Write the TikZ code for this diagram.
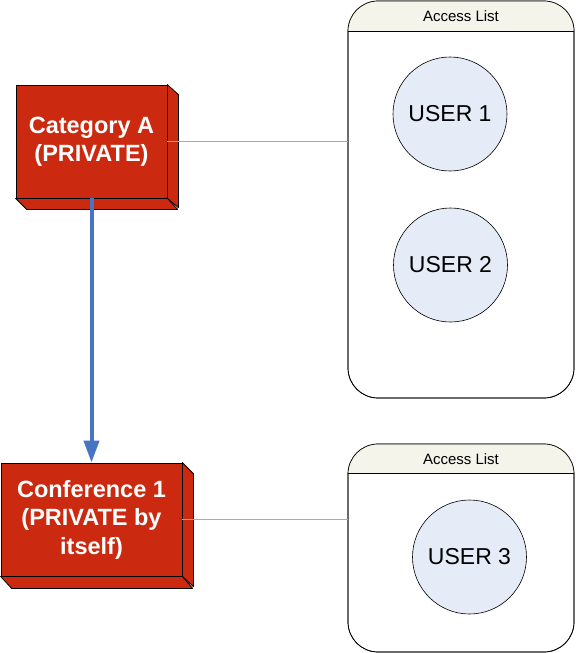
\documentclass[tikz,border=0pt]{standalone}
\usepackage{fontspec}
\newfontfamily\arial{Liberation Sans}
\usetikzlibrary{arrows.meta}
\definecolor{boxred}{HTML}{CC2A10}
\definecolor{hdr}{HTML}{F4F4EA}
\definecolor{userfill}{HTML}{E6ECF7}
\definecolor{thinblue}{HTML}{8DB0E0}
\definecolor{arrowblue}{HTML}{4775C4}
\tikzset{
  x=1pt, y=-1pt,
  frontface/.style={draw=black, line width=0.8pt, fill=boxred, inner sep=0pt, align=center,
     text=white, font=\arial\bfseries\fontsize{23.5}{28.5}\selectfont},
  sideface/.style={draw=black, line width=0.8pt, fill=boxred, line join=round},
  listbox/.style={draw=black, line width=0.7pt, rounded corners=30pt, inner sep=0pt},
  hdrtext/.style={font=\arial\fontsize{15}{18}\selectfont, inner sep=0pt},
  user/.style={circle, draw=black, line width=0.6pt, fill=userfill, inner sep=0pt,
     minimum size=114pt, font=\arial\fontsize{23}{27}\selectfont},
  thinlink/.style={draw=thinblue, line width=1.1pt},
  biglink/.style={draw=arrowblue, line width=4pt, -{Triangle[width=15pt,length=22pt]}}
}
\begin{document}
\begin{tikzpicture}
\useasboundingbox (0,0) rectangle (576,653);
% Access list containers
\node[listbox, minimum width=226pt, minimum height=397pt] (listA) at (461,199.5) {};
\fill[hdr] (listA.west |- 0,31) [rounded corners=30pt] -- (listA.north west) -- (listA.north east) [sharp corners] -- (listA.east |- 0,31) -- cycle;
\draw[line width=0.7pt] (listA.west |- 0,31) -- (listA.east |- 0,31);
\node[listbox, minimum width=226pt, minimum height=397pt] at (461,199.5) {};
\node[hdrtext] (hA) at (461,16) {Access List};

\node[listbox, minimum width=226pt, minimum height=208pt] (listC) at (461,548) {};
\fill[hdr] (listC.west |- 0,473) [rounded corners=30pt] -- (listC.north west) -- (listC.north east) [sharp corners] -- (listC.east |- 0,473) -- cycle;
\draw[line width=0.7pt] (listC.west |- 0,473) -- (listC.east |- 0,473);
\node[listbox, minimum width=226pt, minimum height=208pt] at (461,548) {};
\node[hdrtext] (hC) at (461,459) {Access List};

% users
\node[user] (u1) at (450,114) {USER 1};
\node[user] (u2) at (450.5,265) {USER 2};
\node[user] (u3) at (469.5,557) {USER 3};

% 3D boxes
\node[frontface, minimum width=151pt, minimum height=113pt] (boxA) at (91.5,141.5) {Category A\\(PRIVATE)};
\draw[sideface] (boxA.north east) -- ++(11,10) -- ++(0,113) -- (boxA.south east) -- cycle;
\draw[sideface] (boxA.south west) -- ++(11,11) -- ++(151,0) -- (boxA.south east) -- cycle;

\node[frontface, minimum width=181pt, minimum height=113pt] (boxC) at (91.5,519.5) {Conference 1\\(PRIVATE by\\itself)};
\draw[sideface] (boxC.north east) -- ++(11,11) -- ++(0,113) -- (boxC.south east) -- cycle;
\draw[sideface] (boxC.south west) -- ++(11,12) -- ++(181,0) -- (boxC.south east) -- cycle;

% connectors
\draw[thinlink] (boxA.east) -- (boxA.east -| listA.west);
\draw[thinlink] (boxC.east) -- (boxC.east -| listC.west);
\draw[biglink] (boxA.south) -- (boxC.north);
\end{tikzpicture}
\end{document}
